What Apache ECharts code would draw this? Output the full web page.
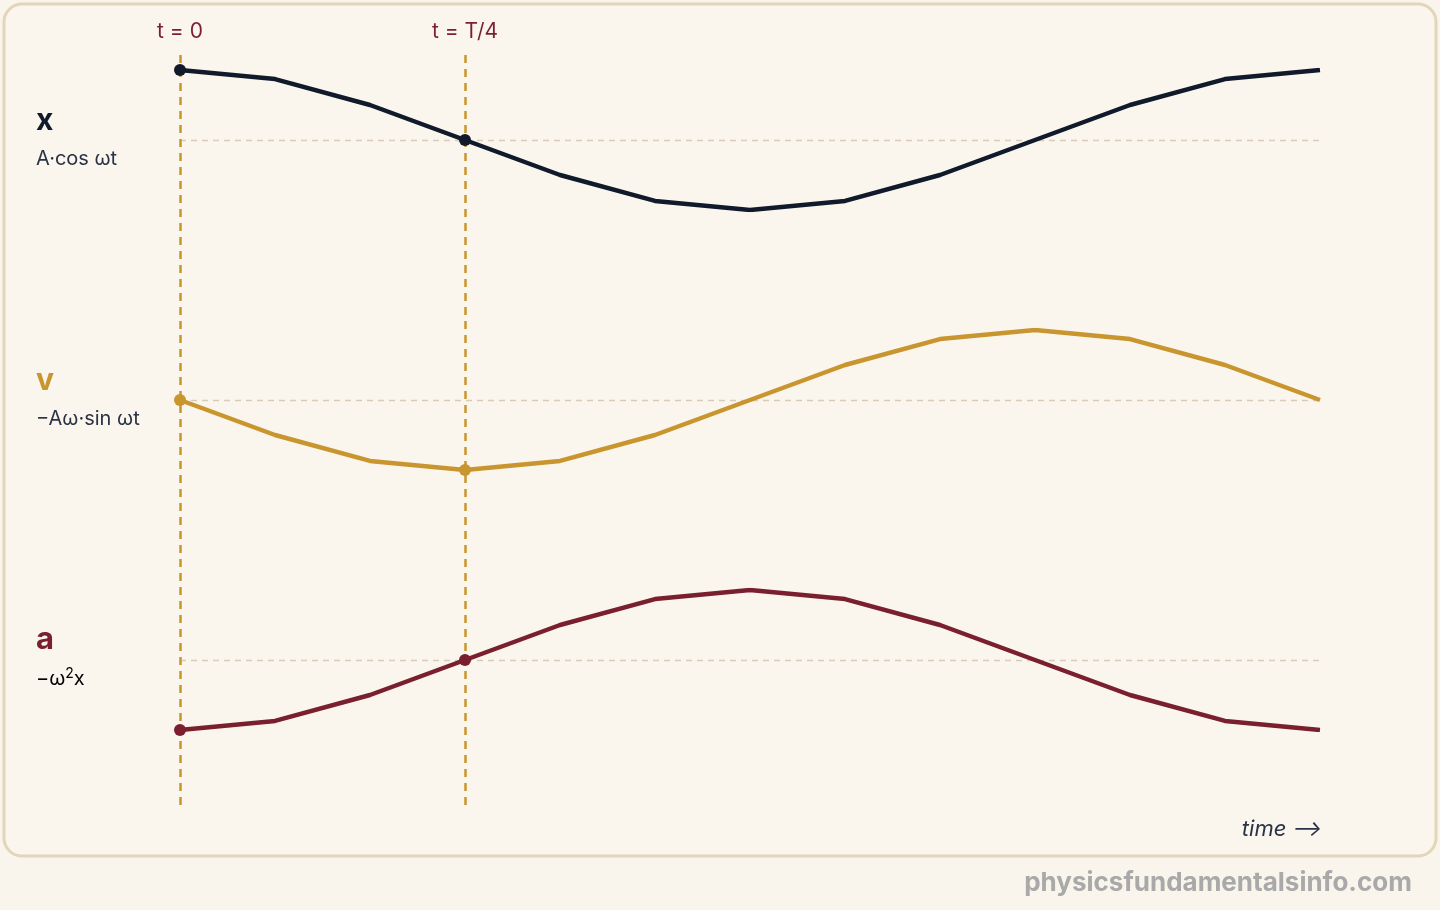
<!DOCTYPE html>
<html><head><meta charset="utf-8">
<script src="https://cdn.jsdelivr.net/npm/echarts@6/dist/echarts.min.js"></script>
<style>html,body{margin:0;padding:0;background:#f9f5ec;}#c{width:1440px;height:910px;}</style>
</head><body><div id="c"></div>
<script>
const steps = [0,1,2,3,4,5,6,7,8,9,10,11,12];
const xVals = [1,0.87,0.5,0,-0.5,-0.87,-1,-0.87,-0.5,0,0.5,0.87,1];
const vVals = [0,-0.5,-0.87,-1,-0.87,-0.5,0,0.5,0.87,1,0.87,0.5,0];
const aVals = [-1,-0.87,-0.5,0,0.5,0.87,1,0.87,0.5,0,-0.5,-0.87,-1];
const markIdx = [0,3];
const markLabels = ['t = 0','t = T/4'];
const C = {x:'#101a2b', v:'#c8952e', a:'#7a1f2e'};
const font = 'Inter, "Noto Sans", sans-serif';

function mk(vals){
  return vals.map((v,i)=>({value:[steps[i],v], symbol: markIdx.includes(i)?'circle':'none', symbolSize:12}));
}
const tops=[70,330,590];
const grids=tops.map(t=>({left:180,right:120,top:t,height:140}));
grids.push({left:180,right:120,top:50,bottom:105});
const xAxes=grids.map((g,i)=>({type:'value',gridIndex:i,min:0,max:12,show:false}));
const yAxes=grids.map((g,i)=>({type:'value',gridIndex:i,min:-1,max:1,show:false}));
const sets=[[xVals,C.x],[vVals,C.v],[aVals,C.a]];
const series=sets.map(([vals,col],i)=>({
  type:'line',xAxisIndex:i,yAxisIndex:i,data:mk(vals),
  lineStyle:{color:col,width:4.5},itemStyle:{color:col},showSymbol:true,silent:true,z:5,
  markLine:{silent:true,symbol:'none',label:{show:false},lineStyle:{color:'#d6ccb8',type:[6,5],width:1.3},data:[{yAxis:0}]}
}));
series.push({type:'line',xAxisIndex:3,yAxisIndex:3,data:[],
  markLine:{silent:true,symbol:'none',lineStyle:{color:'#c8952e',type:[8,6],width:2.5},
    label:{show:true,position:'end',color:'#7a1f2e',fontFamily:font,fontSize:21,distance:8},
    data:markIdx.map((k,j)=>({xAxis:steps[k],label:{formatter:markLabels[j]}}))}});
const chart=echarts.init(document.getElementById('c'));
chart.setOption({
  backgroundColor:'#f9f5ec',animation:false,
  grid:grids,xAxis:xAxes,yAxis:yAxes,series,
  graphic:[
    {type:'rect',z:-10,shape:{x:4,y:4,width:1432,height:852,r:18},style:{fill:'#faf6ee',stroke:'#e2d5b8',lineWidth:3}},
    {type:'text',left:36,top:106,style:{text:'x',font:'bold 30px '+font,fill:C.x}},
    {type:'text',left:36,top:149,style:{text:'A·cos ωt',font:'20px '+font,fill:'#2a3345'}},
    {type:'text',left:36,top:366,style:{text:'v',font:'bold 30px '+font,fill:C.v}},
    {type:'text',left:36,top:409,style:{text:'−Aω·sin ωt',font:'20px '+font,fill:'#2a3345'}},
    {type:'text',left:36,top:624,style:{text:'a',font:'bold 31px '+font,fill:C.a}},
    {type:'text',left:36,top:667,style:{text:'{n|−ω}{s|2}{n|x}',rich:{n:{font:'20px '+font,color:'#2a3345'},s:{font:'14px '+font,color:'#2a3345',verticalAlign:'top',padding:[0,0,10,0]}}}},
    {type:'text',right:118,top:818,style:{text:'time ⟶',font:'italic 22px '+font,fill:'#2a3345'}},
    {type:'text',right:28,top:870,style:{text:'physicsfundamentalsinfo.com',font:'bold 26px '+font,fill:'#a9a9a9'}}
  ]
});
</script></body></html>
